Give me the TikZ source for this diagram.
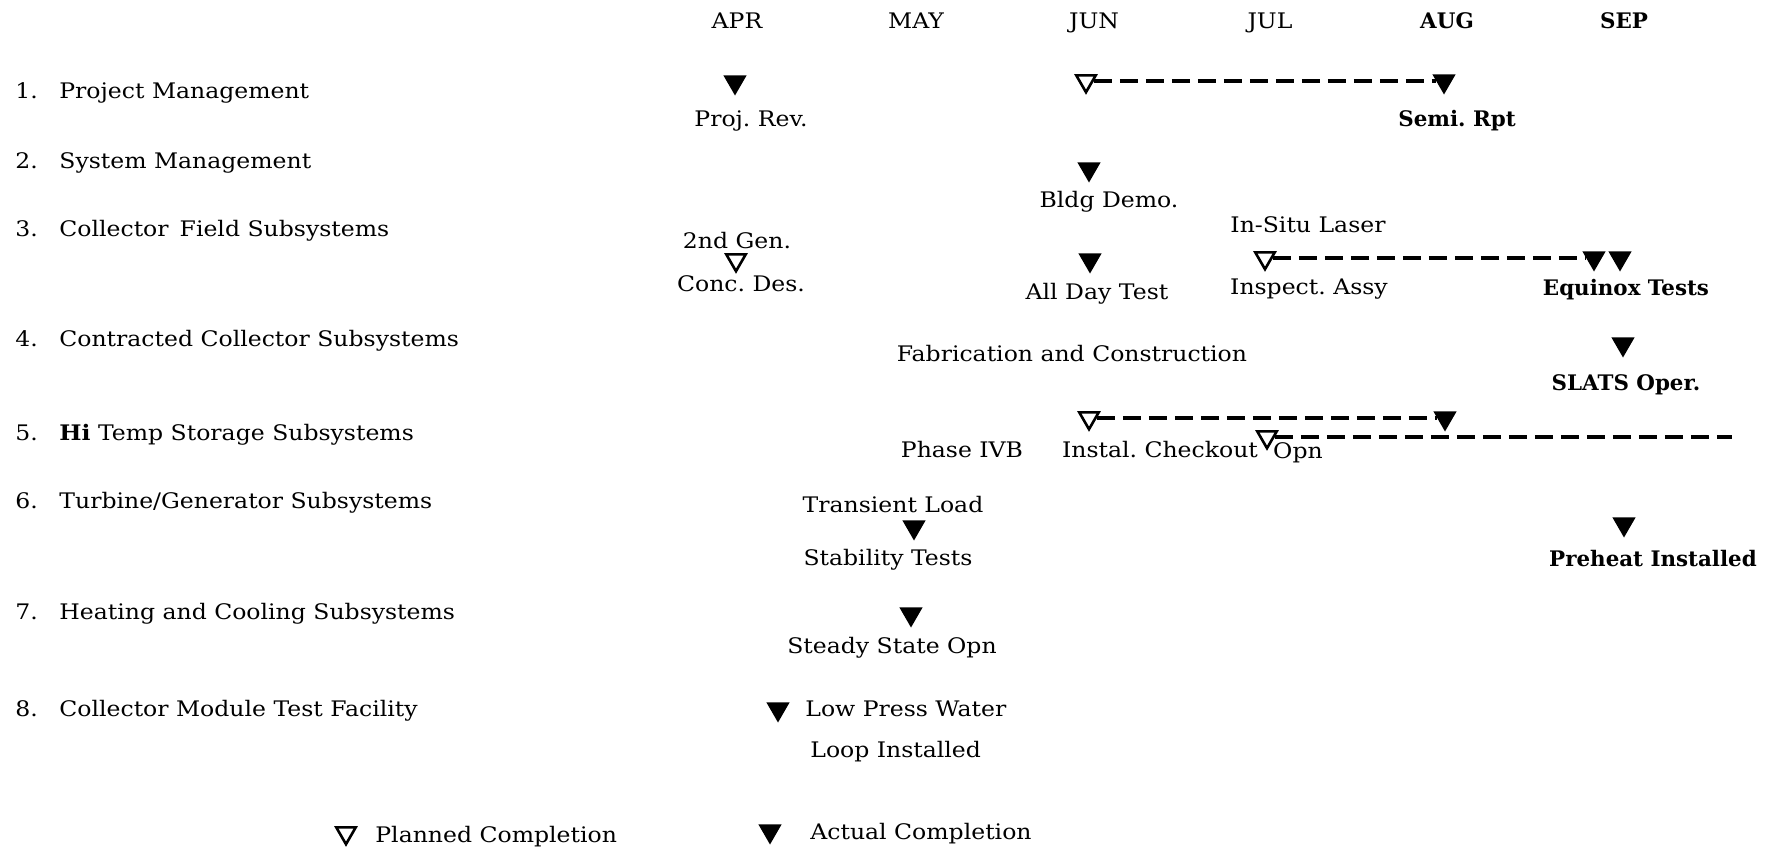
\documentclass[tikz,border=0pt]{standalone}
\usepackage{fontspec}
\setmainfont{DejaVu Serif}[FakeStretch=1.1]
\newfontfamily\heavyfont{DejaVu Serif}
\usetikzlibrary{shapes.geometric}

\begin{document}
\begin{tikzpicture}[
    x=0.5pt, y=-0.5pt,
    every node/.style={font=\fontsize{10.7}{13}\selectfont, inner sep=0pt, anchor=base},
    task/.style={anchor=base west},
    hilite/.style={font=\heavyfont\fontsize{10.7}{13}\selectfont\bfseries},
    actual/.style={regular polygon, regular polygon sides=3, shape border rotate=180, fill=black, minimum size=13.5pt, anchor=center},
    planned/.style={regular polygon, regular polygon sides=3, shape border rotate=180, draw=black, line width=1.3pt, fill=white, minimum size=11.2pt, anchor=center},
    slip/.style={dash pattern=on 9pt off 4pt, line width=1.6pt}
  ]
  \useasboundingbox (0,0) rectangle (1769,851);

  % --- Month header ---
  \node (apr) at (737,28) {APR};
  \node (may) at (916,28) {MAY};
  \node (jun) at (1094,28) {JUN};
  \node (jul) at (1270,28) {JUL};
  \node[hilite] (aug) at (1447,28) {AUG};
  \node[hilite] (sep) at (1624,28) {SEP};

  % --- Task list ---
  \node[task] (n1) at (15,98) {1.};
  \node[task] (t1) at (59,98) {Project Management};
  \node[task] (n2) at (15,168) {2.};
  \node[task] (t2) at (59,168) {System Management};
  \node[task] (n3) at (15,236) {3.};
  \node[task] (t3) at (59,236) {Collector\, Field Subsystems};
  \node[task] (n4) at (15,346) {4.};
  \node[task] (t4) at (59,346) {Contracted Collector Subsystems};
  \node[task] (n5) at (15,440) {5.};
  \node[task] (t5) at (59,440) {\textbf{Hi} Temp Storage Subsystems};
  \node[task] (n6) at (15,508) {6.};
  \node[task] (t6) at (59,508) {Turbine/Generator Subsystems};
  \node[task] (n7) at (15,619) {7.};
  \node[task] (t7) at (59,619) {Heating and Cooling Subsystems};
  \node[task] (n8) at (15,716) {8.};
  \node[task] (t8) at (59,716) {Collector Module Test Facility};

  % --- Row 1 ---
  \node[actual] (projrev) at (735,82) {};
  \node (projrevlbl) at (751,126) {Proj.\ Rev.};
  \node[planned] (semiplan) at (1086,81) {};
  \node[actual] (semi) at (1444,81) {};
  \node[hilite] (semilbl) at (1457,126) {Semi.\ Rpt};

  % --- Row 2 ---
  \node[actual] (bldg) at (1089,169) {};
  \node (bldglbl) at (1109,207) {Bldg Demo.};

  % --- Row 3 ---
  \node (genlbl) at (737,248) {2nd Gen.};
  \node[planned] (conc) at (736,260) {};
  \node (conclbl) at (741,291) {Conc.\ Des.};
  \node[actual] (allday) at (1090,260) {};
  \node (alldaylbl) at (1097,299) {All Day Test};
  \node (laserlbl) at (1308,232) {In-Situ Laser};
  \node[planned] (inspplan) at (1265,258) {};
  \node (insplbl) at (1309,294) {Inspect.\ Assy};
  \node[actual] (insp) at (1594,258) {};
  \node[actual] (equinox) at (1620,258) {};
  \node[hilite] (equinoxlbl) at (1626,295) {Equinox Tests};

  % --- Row 4 ---
  \node (fablbl) at (1072,361) {Fabrication and Construction};
  \node[actual] (slats) at (1623,344) {};
  \node[hilite] (slatslbl) at (1626,390) {SLATS Oper.};

  % --- Row 5 ---
  \node[planned] (instplan) at (1089,418) {};
  \node[actual] (inst) at (1445,418) {};
  \node[planned] (opnplan) at (1267,437) {};
  \coordinate (opnend) at (1732,437);
  \node (phaselbl) at (962,457) {Phase IVB};
  \node (instlbl) at (1160,457) {Instal.\ Checkout};
  \node (opnlbl) at (1298,458) {Opn};

  % --- Row 6 ---
  \node (translbl) at (893,512) {Transient Load};
  \node[actual] (stab) at (914,527) {};
  \node (stablbl) at (888,565) {Stability Tests};
  \node[actual] (preheat) at (1624,524) {};
  \node[hilite] (preheatlbl) at (1653,566) {Preheat Installed};

  % --- Row 7 ---
  \node[actual] (steady) at (911,614) {};
  \node (steadylbl) at (892,653) {Steady State Opn};

  % --- Row 8 ---
  \node[actual] (loop) at (778,709) {};
  \node[task] (looplbl) at (805,716) {Low Press Water};
  \node[task] (looplbl2) at (810,757) {Loop Installed};

  % --- Slips ---
  \draw[slip] (semiplan.east) -- (semi.west);
  \draw[slip] (inspplan.east) -- (insp.west);
  \draw[slip] (instplan.east) -- (inst.west);
  \draw[slip] (opnplan.east) -- (opnend);

  % --- Legend ---
  \node[planned] (keyplan) at (346,833) {};
  \node[task] (keyplanlbl) at (375,842) {Planned Completion};
  \node[actual] (keyact) at (770,831) {};
  \node[task] (keyactlbl) at (810,839) {Actual Completion};

\end{tikzpicture}
\end{document}
